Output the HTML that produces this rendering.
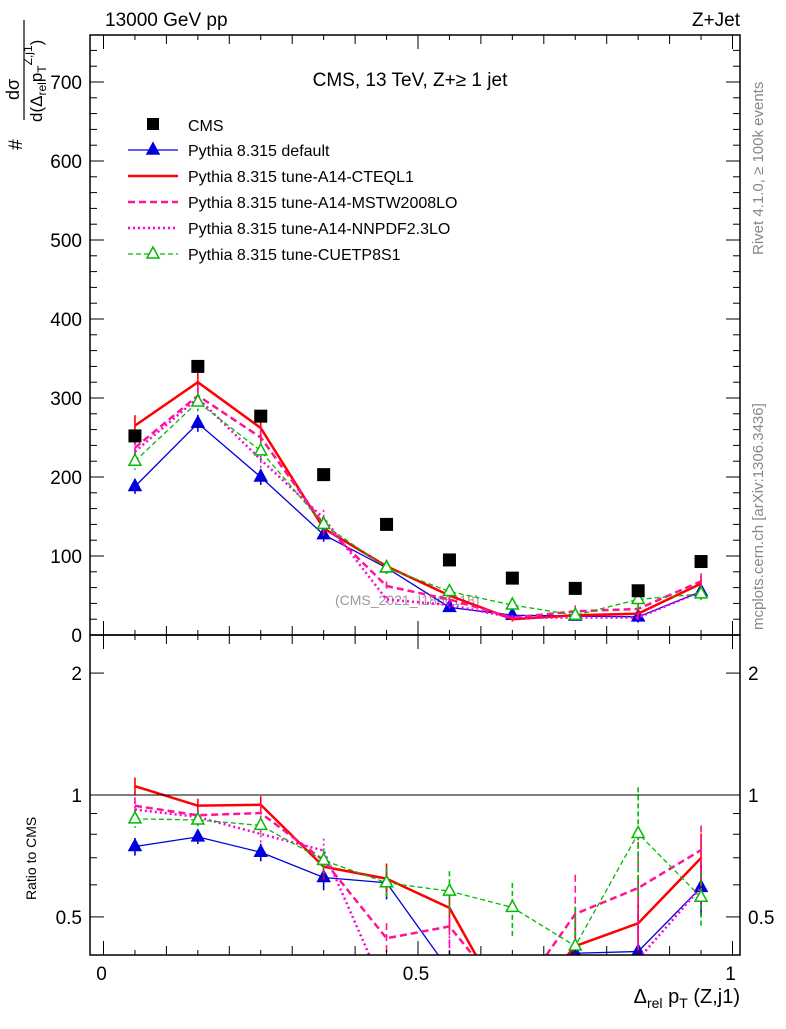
<!DOCTYPE html>
<html><head><meta charset="utf-8"><style>
body{margin:0;background:#fff}
svg{font-family:"Liberation Sans",sans-serif}
</style></head><body>
<svg id="c" width="786" height="1024" viewBox="0 0 786 1024">
<text x="105" y="26" font-size="19">13000 GeV pp</text>
<text x="740" y="26" font-size="19" text-anchor="end">Z+Jet</text>
<text x="410" y="86" font-size="19" text-anchor="middle">CMS, 13 TeV, Z+≥ 1 jet</text>
<text transform="translate(763,255) rotate(-90)" font-size="15" fill="#888">Rivet 4.1.0, ≥ 100k events</text>
<text transform="translate(763,630) rotate(-90)" font-size="15" fill="#888">mcplots.cern.ch [arXiv:1306.3436]</text>
<text x="335" y="605" font-size="14" fill="#999">(CMS_2021_I1866118)</text>
<g transform="translate(22,150) rotate(-90)">
<text x="0" y="0" font-size="19">#</text>
<text x="50" y="-3" font-size="18">dσ</text>
<line x1="30" y1="2" x2="130" y2="2" stroke="#000" stroke-width="1.2"/>
<text x="28" y="20" font-size="17">d(Δ<tspan font-size="12" dy="4">rel</tspan><tspan dy="-4">p</tspan><tspan font-size="12" dy="4">T</tspan><tspan font-size="12" dy="-14">Z,j1</tspan><tspan dy="10">)</tspan></text>
</g>
<text transform="translate(36,900) rotate(-90)" font-size="14">Ratio to CMS</text>
<text x="740" y="1003" font-size="20" text-anchor="end">Δ<tspan font-size="14" dy="5">rel</tspan><tspan dy="-5"> p</tspan><tspan font-size="14" dy="5">T</tspan><tspan dy="-5"> (Z,j1)</tspan></text>
<g id="legend"></g>
<g id="main"></g><g id="ratio"></g>
</svg>
<script>
const xCenters=[0.05,0.15,0.25,0.35,0.45,0.55,0.65,0.75,0.85,0.95];
const cmsVals=[252,340,277,203,140,95,72,59,56,93];
const defVals=[188,268,200,127,85,35,25,24,23,55];
const cteqVals=[265,320,262,135,87,50,20,25,27,65];
const mstwVals=[237,303,250,140,62,45,22,30,33,68];
const nnpdfVals=[232,300,222,148,45,38,22,22,22,55];
const cuetVals=[220,295,233,140,85,55,38,25,45,52];
const relErr=[0.05,0.04,0.05,0.07,0.09,0.12,0.15,0.25,0.3,0.15];
const yTicks=[0,100,200,300,400,500,600,700];
const rTicks=[0.5,1,2];
const xTicks=[0,0.5,1];
const NS="http://www.w3.org/2000/svg";
const L=90,R=740,T=35,B=635,RB=955;
const X=v=>103.5+v*629;
const Y=v=>635-v*0.79;
const RY=v=>795-Math.log10(v)*405;
function mk(p,tag,a){const e=document.createElementNS(NS,tag);for(const k in a)e.setAttribute(k,a[k]);p.appendChild(e);return e;}
const svg=document.getElementById('c');
const main=document.getElementById('main'),ratio=document.getElementById('ratio');
const defs=mk(svg,'defs',{});
const c1=mk(defs,'clipPath',{id:'cm'});mk(c1,'rect',{x:L,y:T,width:R-L,height:B-T});
const c2=mk(defs,'clipPath',{id:'cr'});mk(c2,'rect',{x:L,y:B,width:R-L,height:RB-B});
main.setAttribute('clip-path','url(#cm)');ratio.setAttribute('clip-path','url(#cr)');
const ax=mk(svg,'g',{});


mk(ax,'rect',{x:L,y:T,width:R-L,height:B-T,fill:'none',stroke:'#000','stroke-width':1.5});
mk(ax,'rect',{x:L,y:B,width:R-L,height:RB-B,fill:'none',stroke:'#000','stroke-width':1.5});
for(let v=0;v<=760;v+=20){const y=Y(v);if(y<T)break;const big=v%100===0;
 mk(ax,'line',{x1:L,x2:L+(big?14:7),y1:y,y2:y,stroke:'#000'});mk(ax,'line',{x1:R,x2:R-(big?14:7),y1:y,y2:y,stroke:'#000'});}
yTicks.forEach(v=>{const t=mk(ax,'text',{x:L-8,y:Y(v)+7,'font-size':19,'text-anchor':'end'});t.textContent=v;});
[0.5,0.6,0.7,0.8,0.9,1,2].forEach(v=>{const y=RY(v);const big=rTicks.includes(v);
 mk(ax,'line',{x1:L,x2:L+(big?14:7),y1:y,y2:y,stroke:'#000'});mk(ax,'line',{x1:R,x2:R-(big?14:7),y1:y,y2:y,stroke:'#000'});});
rTicks.forEach(v=>{[L-8,R+8].forEach((xx,i)=>{const t=mk(ax,'text',{x:xx,y:RY(v)+7,'font-size':19,'text-anchor':i?'start':'end'});t.textContent=v;});});
mk(ax,'line',{x1:L,x2:R,y1:RY(1),y2:RY(1),stroke:'#000'});
for(let i=0;i<=20;i++){const v=i*0.05,x=X(v);if(x>R)break;const big=i%10===0,mid=i%2===0;const h=big?14:(mid?9:5);
 [B,RB].forEach(yb=>{mk(ax,'line',{x1:x,x2:x,y1:yb,y2:yb-h,stroke:'#000'});mk(ax,'line',{x1:x,x2:x,y1:(yb===B?T:B),y2:(yb===B?T:B)+h,stroke:'#000'});});}
xTicks.forEach(v=>{const t=mk(ax,'text',{x:X(v)-2,y:980,'font-size':19,'text-anchor':'middle'});t.textContent=v;});
const series=[
 {name:'default',label:'Pythia 8.315 default',vals:defVals,col:'#0000dd',w:1.3,dash:'',mk:'tri'},
 {name:'cteql1',label:'Pythia 8.315 tune-A14-CTEQL1',vals:cteqVals,col:'#ff0000',w:2.5,dash:'',mk:''},
 {name:'mstw',label:'Pythia 8.315 tune-A14-MSTW2008LO',vals:mstwVals,col:'#ff1493',w:2.5,dash:'7,4',mk:''},
 {name:'nnpdf',label:'Pythia 8.315 tune-A14-NNPDF2.3LO',vals:nnpdfVals,col:'#ff00dd',w:2.5,dash:'2,3',mk:''},
 {name:'cuetp8s1',label:'Pythia 8.315 tune-CUETP8S1',vals:cuetVals,col:'#00bb00',w:1.3,dash:'5,3',mk:'otri'}];
function tri(g,x,y,col,open){return mk(g,'path',{d:`M${x},${y-7}L${x+6},${y+4}L${x-6},${y+4}Z`,fill:open?'#fff':col,stroke:col,'stroke-width':1.5});}
series.forEach(s=>{
 [[main,Y,i=>s.vals[i]],[ratio,RY,i=>s.vals[i]/cmsVals[i]]].forEach(([g0,f,val],pi)=>{
  const g=mk(g0,'g',{});
  
  
  const pts=xCenters.map((x,i)=>X(x)+','+f(val(i))).join(' ');
  mk(g,'polyline',{points:pts,fill:'none',stroke:s.col,'stroke-width':s.w,'stroke-dasharray':s.dash});
  xCenters.forEach((x,i)=>{const v=val(i),e=v*relErr[i];const px=X(x);
   mk(g,'line',{x1:px,x2:px,y1:f(v+e),y2:f(Math.max(v-e,0.01)),stroke:s.col,'stroke-width':1.6,'stroke-dasharray':s.dash});
   if(s.mk)tri(g,px,f(v),s.col,s.mk==='otri');});
 });
});
const cg=mk(main,'g',{});


xCenters.forEach((x,i)=>{mk(cg,'rect',{x:X(x)-6.5,y:Y(cmsVals[i])-6.5,width:13,height:13,fill:'#000'});});
const lg=document.getElementById('legend');
mk(lg,'rect',{x:147,y:118,width:12,height:12,fill:'#000'});
let t=mk(lg,'text',{x:188,y:131,'font-size':16});t.textContent='CMS';
series.forEach((s,i)=>{const y=150+i*26;
 const e=mk(lg,'g',{});
 
 
 mk(e,'line',{x1:128,x2:178,y1:y,y2:y,stroke:s.col,'stroke-width':s.w,'stroke-dasharray':s.dash});
 if(s.mk)tri(e,153,y,s.col,s.mk==='otri');
 const tt=mk(e,'text',{x:188,y:y+6,'font-size':16});tt.textContent=s.label;});
</script>
</body></html>
